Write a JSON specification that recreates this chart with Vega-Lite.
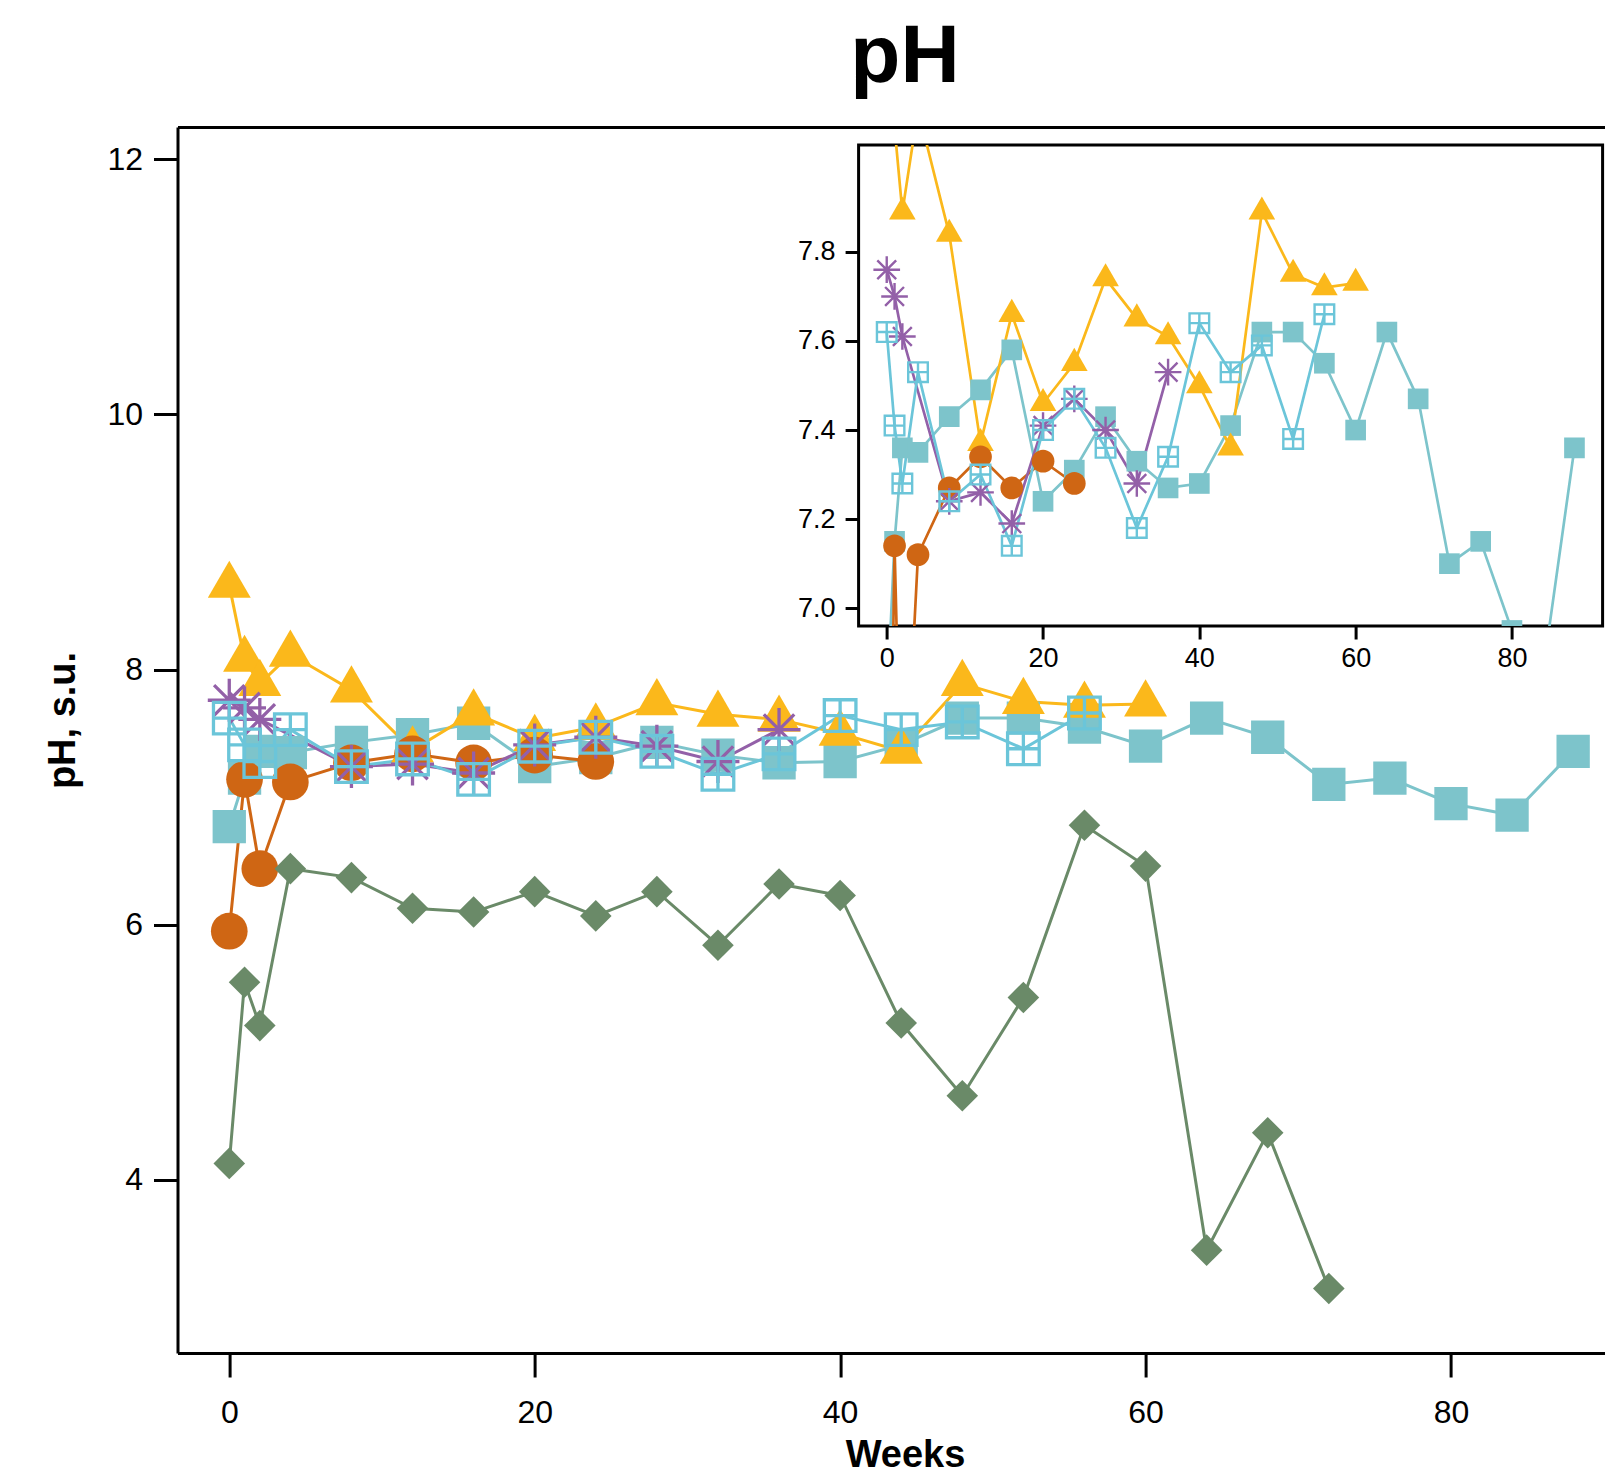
{
  "$schema": "https://vega.github.io/schema/vega-lite/v6.json",
  "width": 744,
  "height": 481,
  "autosize": {"type": "none"},
  "padding": {"left": 858.6, "top": 145, "right": 2.4, "bottom": 855},
  "background": "white",
  "config": {
    "view": {"stroke": "black", "strokeWidth": 3},
    "font": "Liberation Sans",
    "axis": {"grid": false, "domainColor": "black", "tickColor": "black", "labelColor": "black", "titleColor": "black", "labelFont": "Liberation Sans", "titleFont": "Liberation Sans"}
  },
  "title": {"text": "pH", "font": "Liberation Sans", "fontSize": 82, "fontWeight": "bold", "color": "black", "anchor": "middle", "frame": "group", "dx": -325.6, "baseline": "alphabetic", "offset": -36.5},
  "datasets": {
    "d": [
      {"series": "S1", "week": 0, "ph": 6.77}, {"series": "S1", "week": 1, "ph": 7.15}, {"series": "S1", "week": 2, "ph": 7.36}, {"series": "S1", "week": 4, "ph": 7.35}, {"series": "S1", "week": 8, "ph": 7.43}, {"series": "S1", "week": 12, "ph": 7.49}, {"series": "S1", "week": 16, "ph": 7.58}, {"series": "S1", "week": 20, "ph": 7.24}, {"series": "S1", "week": 24, "ph": 7.31}, {"series": "S1", "week": 28, "ph": 7.43}, {"series": "S1", "week": 32, "ph": 7.33}, {"series": "S1", "week": 36, "ph": 7.27}, {"series": "S1", "week": 40, "ph": 7.28}, {"series": "S1", "week": 44, "ph": 7.41}, {"series": "S1", "week": 48, "ph": 7.62}, {"series": "S1", "week": 52, "ph": 7.62}, {"series": "S1", "week": 56, "ph": 7.55}, {"series": "S1", "week": 60, "ph": 7.40}, {"series": "S1", "week": 64, "ph": 7.62}, {"series": "S1", "week": 68, "ph": 7.47}, {"series": "S1", "week": 72, "ph": 7.10}, {"series": "S1", "week": 76, "ph": 7.15}, {"series": "S1", "week": 80, "ph": 6.95}, {"series": "S1", "week": 84, "ph": 6.86}, {"series": "S1", "week": 88, "ph": 7.36},
      {"series": "S2", "week": 0, "ph": 8.66}, {"series": "S2", "week": 1, "ph": 8.08}, {"series": "S2", "week": 2, "ph": 7.89}, {"series": "S2", "week": 4, "ph": 8.12}, {"series": "S2", "week": 8, "ph": 7.84}, {"series": "S2", "week": 12, "ph": 7.37}, {"series": "S2", "week": 16, "ph": 7.66}, {"series": "S2", "week": 20, "ph": 7.46}, {"series": "S2", "week": 24, "ph": 7.55}, {"series": "S2", "week": 28, "ph": 7.74}, {"series": "S2", "week": 32, "ph": 7.65}, {"series": "S2", "week": 36, "ph": 7.61}, {"series": "S2", "week": 40, "ph": 7.50}, {"series": "S2", "week": 44, "ph": 7.36}, {"series": "S2", "week": 48, "ph": 7.89}, {"series": "S2", "week": 52, "ph": 7.75}, {"series": "S2", "week": 56, "ph": 7.72}, {"series": "S2", "week": 60, "ph": 7.73},
      {"series": "S3", "week": 0, "ph": 5.95}, {"series": "S3", "week": 1, "ph": 7.14}, {"series": "S3", "week": 2, "ph": 6.44}, {"series": "S3", "week": 4, "ph": 7.12}, {"series": "S3", "week": 8, "ph": 7.27}, {"series": "S3", "week": 12, "ph": 7.34}, {"series": "S3", "week": 16, "ph": 7.27}, {"series": "S3", "week": 20, "ph": 7.33}, {"series": "S3", "week": 24, "ph": 7.28},
      {"series": "S4", "week": 0, "ph": 4.13}, {"series": "S4", "week": 1, "ph": 5.55}, {"series": "S4", "week": 2, "ph": 5.21}, {"series": "S4", "week": 4, "ph": 6.44}, {"series": "S4", "week": 8, "ph": 6.37}, {"series": "S4", "week": 12, "ph": 6.13}, {"series": "S4", "week": 16, "ph": 6.10}, {"series": "S4", "week": 20, "ph": 6.26}, {"series": "S4", "week": 24, "ph": 6.07}, {"series": "S4", "week": 28, "ph": 6.26}, {"series": "S4", "week": 32, "ph": 5.84}, {"series": "S4", "week": 36, "ph": 6.32}, {"series": "S4", "week": 40, "ph": 6.23}, {"series": "S4", "week": 44, "ph": 5.23}, {"series": "S4", "week": 48, "ph": 4.66}, {"series": "S4", "week": 52, "ph": 5.43}, {"series": "S4", "week": 56, "ph": 6.78}, {"series": "S4", "week": 60, "ph": 6.46}, {"series": "S4", "week": 64, "ph": 3.45}, {"series": "S4", "week": 68, "ph": 4.37}, {"series": "S4", "week": 72, "ph": 3.15},
      {"series": "S5", "week": 0, "ph": 7.76}, {"series": "S5", "week": 1, "ph": 7.70}, {"series": "S5", "week": 2, "ph": 7.61}, {"series": "S5", "week": 8, "ph": 7.24}, {"series": "S5", "week": 12, "ph": 7.26}, {"series": "S5", "week": 16, "ph": 7.19}, {"series": "S5", "week": 20, "ph": 7.41}, {"series": "S5", "week": 24, "ph": 7.47}, {"series": "S5", "week": 28, "ph": 7.40}, {"series": "S5", "week": 32, "ph": 7.28}, {"series": "S5", "week": 36, "ph": 7.53},
      {"series": "S6", "week": 0, "ph": 7.62}, {"series": "S6", "week": 1, "ph": 7.41}, {"series": "S6", "week": 2, "ph": 7.28}, {"series": "S6", "week": 4, "ph": 7.53}, {"series": "S6", "week": 8, "ph": 7.24}, {"series": "S6", "week": 12, "ph": 7.30}, {"series": "S6", "week": 16, "ph": 7.14}, {"series": "S6", "week": 20, "ph": 7.40}, {"series": "S6", "week": 24, "ph": 7.47}, {"series": "S6", "week": 28, "ph": 7.36}, {"series": "S6", "week": 32, "ph": 7.18}, {"series": "S6", "week": 36, "ph": 7.34}, {"series": "S6", "week": 40, "ph": 7.64}, {"series": "S6", "week": 44, "ph": 7.53}, {"series": "S6", "week": 48, "ph": 7.59}, {"series": "S6", "week": 52, "ph": 7.38}, {"series": "S6", "week": 56, "ph": 7.66}
    ]
  },
  "data": {"name": "d"},
  "layer": [
    {
      "layer": [
        {
          "mark": {"type": "line", "strokeWidth": 3},
          "encoding": {
            "x": {"field": "week", "type": "quantitative", "scale": {"domain": [-3.39, 91.5], "range": [-681.1, 768], "nice": false, "zero": false},
              "axis": {"orient": "bottom", "offset": 727, "values": [0, 20, 40, 60, 80], "tickSize": 24, "tickWidth": 3, "domainWidth": 3, "labelFontSize": 32, "labelPadding": 20, "title": "Weeks", "titleFontSize": 38, "titleFontWeight": "bold", "titleX": 46.4, "titleY": 113, "titleAlign": "center", "titleBaseline": "alphabetic"}},
            "y": {"field": "ph", "type": "quantitative", "scale": {"domain": [2.644, 12.253], "range": [1208, -18], "nice": false, "zero": false},
              "axis": {"orient": "left", "offset": 681.1, "values": [4, 6, 8, 10, 12], "tickSize": 24, "tickWidth": 3, "domainWidth": 3, "labelFontSize": 32, "labelPadding": 11, "title": "pH, s.u.", "titleFontSize": 38, "titleFontWeight": "bold", "titleAngle": 270, "titleX": -102.7, "titleY": 575, "titleAlign": "center", "titleBaseline": "alphabetic"}},
            "color": {"field": "series", "type": "nominal", "scale": {"domain": ["S1", "S2", "S3", "S4", "S5", "S6"], "range": ["#7DC4CB", "#FBB81B", "#CF6614", "#6A8A68", "#9360A8", "#6BC5D9"]}, "legend": null},
            "order": {"field": "week", "type": "quantitative"}
          }
        },
        {
          "transform": [{"filter": {"field": "series", "oneOf": ["S1", "S2", "S3", "S4"]}}],
          "mark": {"type": "point", "filled": true, "size": 1600, "opacity": 1},
          "encoding": {
            "x": {"field": "week", "type": "quantitative", "scale": {"domain": [-3.39, 91.5], "range": [-681.1, 768], "nice": false, "zero": false},
              "axis": {"orient": "top", "offset": 18, "labels": false, "ticks": false, "domainWidth": 3, "title": null}},
            "y": {"field": "ph", "type": "quantitative", "scale": {"domain": [2.644, 12.253], "range": [1208, -18], "nice": false, "zero": false}},
            "color": {"field": "series", "type": "nominal", "scale": {"domain": ["S1", "S2", "S3", "S4", "S5", "S6"], "range": ["#7DC4CB", "#FBB81B", "#CF6614", "#6A8A68", "#9360A8", "#6BC5D9"]}, "legend": null},
            "shape": {"field": "series", "type": "nominal", "scale": {"domain": ["S1", "S2", "S3", "S4", "S5", "S6"], "range": ["M-0.833,-0.833L0.833,-0.833L0.833,0.833L-0.833,0.833Z", "M0,-1.24L1.074,0.62L-1.074,0.62Z", "M0.917,0A0.917,0.917,0,1,1,-0.917,0A0.917,0.917,0,1,1,0.917,0Z", "M0,-0.79L0.79,0L0,0.79L-0.79,0Z", "M-1.075,0L1.075,0M0,-1.075L0,1.075M-0.76,-0.76L0.76,0.76M-0.76,0.76L0.76,-0.76", "M-0.79,-0.79L0.79,-0.79L0.79,0.79L-0.79,0.79ZM0,-0.79L0,0.79M-0.79,0L0.79,0"]}, "legend": null}
          }
        },
        {
          "transform": [{"filter": {"field": "series", "oneOf": ["S5", "S6"]}}],
          "mark": {"type": "point", "filled": false, "size": 1600, "strokeWidth": 3.3, "opacity": 1},
          "encoding": {
            "x": {"field": "week", "type": "quantitative", "scale": {"domain": [-3.39, 91.5], "range": [-681.1, 768], "nice": false, "zero": false}, "axis": null},
            "y": {"field": "ph", "type": "quantitative", "scale": {"domain": [2.644, 12.253], "range": [1208, -18], "nice": false, "zero": false}},
            "color": {"field": "series", "type": "nominal", "scale": {"domain": ["S1", "S2", "S3", "S4", "S5", "S6"], "range": ["#7DC4CB", "#FBB81B", "#CF6614", "#6A8A68", "#9360A8", "#6BC5D9"]}, "legend": null},
            "shape": {"field": "series", "type": "nominal", "scale": {"domain": ["S1", "S2", "S3", "S4", "S5", "S6"], "range": ["M-0.833,-0.833L0.833,-0.833L0.833,0.833L-0.833,0.833Z", "M0,-1.24L1.074,0.62L-1.074,0.62Z", "M0.917,0A0.917,0.917,0,1,1,-0.917,0A0.917,0.917,0,1,1,0.917,0Z", "M0,-0.79L0.79,0L0,0.79L-0.79,0Z", "M-1.075,0L1.075,0M0,-1.075L0,1.075M-0.76,-0.76L0.76,0.76M-0.76,0.76L0.76,-0.76", "M-0.79,-0.79L0.79,-0.79L0.79,0.79L-0.79,0.79ZM0,-0.79L0,0.79M-0.79,0L0.79,0"]}, "legend": null}
          }
        }
      ],
      "resolve": {"axis": {"x": "independent"}}
    },
    {
      "layer": [
        {
          "mark": {"type": "line", "strokeWidth": 2.7, "clip": true},
          "encoding": {
            "x": {"field": "week", "type": "quantitative", "scale": {"domain": [-3.6, 91.6], "nice": false, "zero": false},
              "axis": {"orient": "bottom", "values": [0, 20, 40, 60, 80], "domain": false, "tickSize": 13, "tickWidth": 3, "labelFontSize": 27, "labelPadding": 6, "title": null}},
            "y": {"field": "ph", "type": "quantitative", "scale": {"domain": [6.96, 8.04], "nice": false, "zero": false},
              "axis": {"orient": "left", "values": [7.0, 7.2, 7.4, 7.6, 7.8], "format": ".1f", "domain": false, "tickSize": 13.5, "tickWidth": 3, "labelFontSize": 27, "labelPadding": 10, "title": null}},
            "color": {"field": "series", "type": "nominal", "scale": {"domain": ["S1", "S2", "S3", "S4", "S5", "S6"], "range": ["#7DC4CB", "#FBB81B", "#CF6614", "#6A8A68", "#9360A8", "#6BC5D9"]}, "legend": null},
            "order": {"field": "week", "type": "quantitative"}
          }
        },
        {
          "transform": [{"filter": {"field": "series", "oneOf": ["S1", "S2", "S3", "S4"]}}],
          "mark": {"type": "point", "filled": true, "size": 615, "opacity": 1, "clip": true},
          "encoding": {
            "x": {"field": "week", "type": "quantitative", "scale": {"domain": [-3.6, 91.6], "nice": false, "zero": false}},
            "y": {"field": "ph", "type": "quantitative", "scale": {"domain": [6.96, 8.04], "nice": false, "zero": false}},
            "color": {"field": "series", "type": "nominal", "scale": {"domain": ["S1", "S2", "S3", "S4", "S5", "S6"], "range": ["#7DC4CB", "#FBB81B", "#CF6614", "#6A8A68", "#9360A8", "#6BC5D9"]}, "legend": null},
            "shape": {"field": "series", "type": "nominal", "scale": {"domain": ["S1", "S2", "S3", "S4", "S5", "S6"], "range": ["M-0.833,-0.833L0.833,-0.833L0.833,0.833L-0.833,0.833Z", "M0,-1.24L1.074,0.62L-1.074,0.62Z", "M0.917,0A0.917,0.917,0,1,1,-0.917,0A0.917,0.917,0,1,1,0.917,0Z", "M0,-0.79L0.79,0L0,0.79L-0.79,0Z", "M-1.075,0L1.075,0M0,-1.075L0,1.075M-0.76,-0.76L0.76,0.76M-0.76,0.76L0.76,-0.76", "M-0.79,-0.79L0.79,-0.79L0.79,0.79L-0.79,0.79ZM0,-0.79L0,0.79M-0.79,0L0.79,0"]}, "legend": null}
          }
        },
        {
          "transform": [{"filter": {"field": "series", "oneOf": ["S5", "S6"]}}],
          "mark": {"type": "point", "filled": false, "size": 615, "strokeWidth": 2.4, "opacity": 1, "clip": true},
          "encoding": {
            "x": {"field": "week", "type": "quantitative", "scale": {"domain": [-3.6, 91.6], "nice": false, "zero": false}},
            "y": {"field": "ph", "type": "quantitative", "scale": {"domain": [6.96, 8.04], "nice": false, "zero": false}},
            "color": {"field": "series", "type": "nominal", "scale": {"domain": ["S1", "S2", "S3", "S4", "S5", "S6"], "range": ["#7DC4CB", "#FBB81B", "#CF6614", "#6A8A68", "#9360A8", "#6BC5D9"]}, "legend": null},
            "shape": {"field": "series", "type": "nominal", "scale": {"domain": ["S1", "S2", "S3", "S4", "S5", "S6"], "range": ["M-0.833,-0.833L0.833,-0.833L0.833,0.833L-0.833,0.833Z", "M0,-1.24L1.074,0.62L-1.074,0.62Z", "M0.917,0A0.917,0.917,0,1,1,-0.917,0A0.917,0.917,0,1,1,0.917,0Z", "M0,-0.79L0.79,0L0,0.79L-0.79,0Z", "M-1.075,0L1.075,0M0,-1.075L0,1.075M-0.76,-0.76L0.76,0.76M-0.76,0.76L0.76,-0.76", "M-0.79,-0.79L0.79,-0.79L0.79,0.79L-0.79,0.79ZM0,-0.79L0,0.79M-0.79,0L0.79,0"]}, "legend": null}
          }
        }
      ]
    }
  ],
  "resolve": {"scale": {"x": "independent", "y": "independent"}}
}
